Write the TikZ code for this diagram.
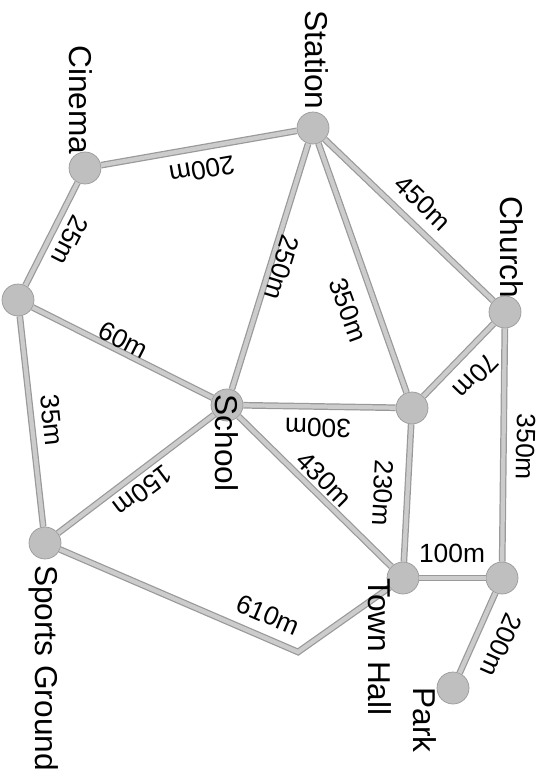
\documentclass[tikz,border=0pt]{standalone}
\usepackage{fontspec}
\setmainfont{Liberation Sans}
\usetikzlibrary{calc}

\tikzset{
  place/.style={circle, draw=gray!80, fill=gray!50, minimum size=0.64cm, inner sep=0pt},
  road/.style={draw=gray!80, line width=0.7pt, double=gray!40, double distance=2.4pt},
  dist/.style={font=\fontsize{15}{17}\selectfont, inner sep=0pt},
  placename/.style={font=\fontsize{18}{20}\selectfont, inner sep=0pt, rotate=-90}
}

\begin{document}
\begin{tikzpicture}[x=0.02cm,y=-0.02cm]
\useasboundingbox (0,0) rectangle (548,774);

% the places
\node[place] (cinema) at (85,168) {}; \node[place] (station) at (313,128) {}; \node[place] (church) at (505,312) {};
\node[place] (junction) at (18,300) {}; \node[place] (school) at (227,405) {}; \node[place] (cross) at (412,408) {};
\node[place] (sports) at (45,543) {}; \node[place] (townhall) at (403,578) {}; \node[place] (corner) at (502,578) {};
\node[place] (park) at (453,688) {};
\coordinate (bend) at (298,652);

% the roads
\draw[road] (cinema) -- (station); \draw[road] (cinema) -- (junction);
\draw[road] (junction) -- (school); \draw[road] (junction) -- (sports);
\draw[road] (station) -- (school); \draw[road] (station) -- (cross); \draw[road] (station) -- (church);
\draw[road] (church) -- (cross); \draw[road] (church) -- (corner);
\draw[road] (school) -- (cross); \draw[road] (school) -- (townhall); \draw[road] (school) -- (sports);
\draw[road] (cross) -- (townhall); \draw[road] (townhall) -- (corner); \draw[road] (corner) -- (park);
\draw[road] (sports) -- (bend) -- (townhall);

% distances
\node[dist, rotate=190] (dCS) at (202,170) {200m}; \node[dist, rotate=-117] (dCJ) at (70,240) {25m};
\node[dist, rotate=-27] (dJS) at (123,340) {60m}; \node[dist, rotate=-84] (dJSp) at (52,420) {35m};
\node[dist, rotate=-107] (dStS) at (282,268) {250m}; \node[dist, rotate=-70] (dStX) at (348,310) {350m};
\node[dist, rotate=-44] (dStC) at (423,203) {450m}; \node[dist, rotate=-134] (dCX) at (476,376) {70m};
\node[dist, rotate=179] (dSX) at (318,428) {300m}; \node[dist, rotate=-45] (dST) at (324,479) {430m};
\node[dist, rotate=-93] (dXT) at (383,493) {230m}; \node[dist, rotate=217] (dSSp) at (143,491) {150m};
\node[dist, rotate=-23] (dSpT) at (268,615) {610m}; \node[dist] (dTR) at (452,553) {100m};
\node[dist, rotate=-91] (dCR) at (526,447) {350m}; \node[dist, rotate=-114] (dRP) at (501,645) {200m};

% names
\node[placename] (nCinema) at (81,100) {Cinema}; \node[placename] (nStation) at (317,60) {Station};
\node[placename] (nChurch) at (512,247) {Church}; \node[placename] (nSchool) at (227,443) {School};
\node[placename] (nSports) at (44,668) {Sports Ground}; \node[placename] (nTown) at (380,647) {Town Hall};
\node[placename] (nPark) at (425,720) {Park};
\end{tikzpicture}
\end{document}
